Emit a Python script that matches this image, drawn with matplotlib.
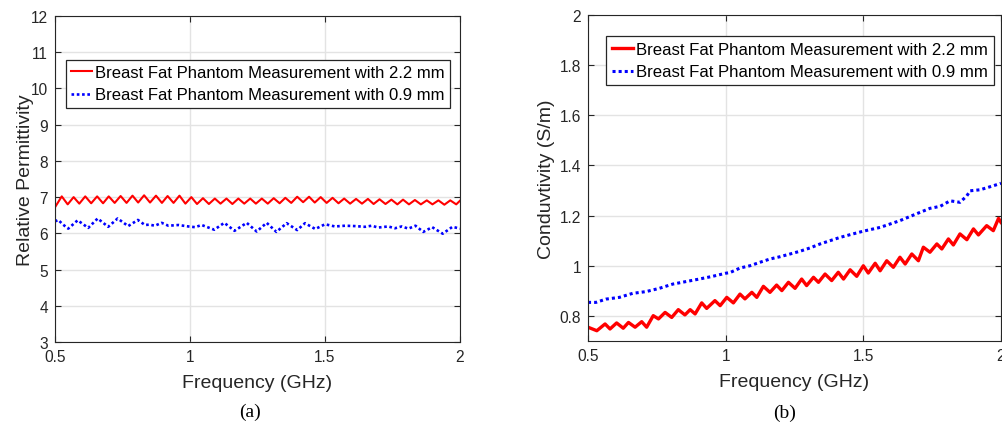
import matplotlib
matplotlib.use("Agg")
import matplotlib.pyplot as plt
from matplotlib.ticker import FixedLocator, FixedFormatter

plt.rcParams['font.family'] = ['Liberation Sans', 'DejaVu Sans']

# ---------------- data: (a) relative permittivity ----------------
freq_a_22 = [0.500, 0.525, 0.547, 0.569, 0.590, 0.612, 0.634, 0.656, 0.678, 0.699,
             0.721, 0.743, 0.765, 0.787, 0.808, 0.830, 0.852, 0.874, 0.896, 0.917,
             0.939, 0.961, 0.983, 1.005, 1.026, 1.048, 1.070, 1.092, 1.113, 1.135,
             1.157, 1.179, 1.201, 1.223, 1.244, 1.266, 1.288, 1.310, 1.332, 1.353,
             1.375, 1.397, 1.419, 1.441, 1.462, 1.484, 1.506, 1.528, 1.550, 1.571,
             1.593, 1.615, 1.637, 1.659, 1.680, 1.702, 1.724, 1.746, 1.768, 1.789,
             1.811, 1.833, 1.855, 1.877, 1.898, 1.920, 1.942, 1.964, 1.986, 2.000]
perm_22 = [6.72, 7.02, 6.80, 7.00, 6.82, 7.02, 6.83, 7.02, 6.83, 7.02,
           6.84, 7.03, 6.84, 7.04, 6.85, 7.05, 6.85, 7.04, 6.84, 7.03,
           6.84, 7.04, 6.82, 7.00, 6.81, 6.97, 6.81, 6.96, 6.82, 6.96,
           6.81, 6.96, 6.82, 6.96, 6.82, 6.96, 6.82, 6.97, 6.83, 6.98,
           6.84, 7.01, 6.86, 7.01, 6.85, 7.00, 6.84, 6.98, 6.83, 6.96,
           6.82, 6.95, 6.82, 6.95, 6.81, 6.94, 6.81, 6.93, 6.80, 6.93,
           6.80, 6.92, 6.80, 6.91, 6.80, 6.91, 6.79, 6.91, 6.80, 6.90]

freq_a_09 = [0.500, 0.512, 0.530, 0.549, 0.584, 0.623, 0.658, 0.697, 0.732, 0.771,
             0.807, 0.833, 0.850, 0.870, 0.895, 0.920, 0.957, 0.994, 1.019, 1.043,
             1.090, 1.127, 1.165, 1.210, 1.247, 1.284, 1.320, 1.358, 1.397, 1.426,
             1.464, 1.500, 1.537, 1.574, 1.611, 1.648, 1.673, 1.697, 1.734, 1.759,
             1.784, 1.809, 1.835, 1.864, 1.897, 1.936, 1.972, 2.000]
perm_09 = [6.33, 6.37, 6.24, 6.13, 6.36, 6.15, 6.41, 6.18, 6.41, 6.20,
           6.37, 6.23, 6.24, 6.21, 6.29, 6.21, 6.23, 6.19, 6.17, 6.23,
           6.10, 6.29, 6.07, 6.29, 6.05, 6.29, 6.04, 6.28, 6.09, 6.28,
           6.12, 6.25, 6.19, 6.21, 6.20, 6.18, 6.21, 6.16, 6.19, 6.14,
           6.19, 6.13, 6.21, 6.04, 6.17, 5.99, 6.18, 6.13]

# ---------------- data: (b) conductivity ----------------
freq_b_22 = [0.500, 0.532, 0.562, 0.580, 0.604, 0.628, 0.647, 0.671, 0.695, 0.713,
             0.737, 0.756, 0.780, 0.804, 0.828, 0.852, 0.871, 0.889, 0.913, 0.931,
             0.961, 0.980, 1.004, 1.028, 1.052, 1.070, 1.095, 1.113, 1.137, 1.161,
             1.185, 1.204, 1.228, 1.252, 1.276, 1.294, 1.319, 1.337, 1.361, 1.385,
             1.409, 1.428, 1.452, 1.476, 1.500, 1.518, 1.543, 1.561, 1.585, 1.609,
             1.633, 1.652, 1.676, 1.700, 1.718, 1.742, 1.767, 1.785, 1.809, 1.827,
             1.851, 1.876, 1.900, 1.918, 1.948, 1.972, 1.991, 2.000]
cond_22 = [0.755, 0.741, 0.768, 0.748, 0.772, 0.751, 0.774, 0.755, 0.777, 0.755,
           0.801, 0.788, 0.814, 0.794, 0.825, 0.804, 0.825, 0.808, 0.852, 0.830,
           0.861, 0.841, 0.874, 0.852, 0.887, 0.868, 0.894, 0.874, 0.918, 0.894,
           0.923, 0.901, 0.934, 0.910, 0.947, 0.921, 0.954, 0.934, 0.967, 0.941,
           0.974, 0.947, 0.984, 0.958, 1.000, 0.971, 1.010, 0.980, 1.020, 0.994,
           1.034, 1.007, 1.047, 1.020, 1.074, 1.054, 1.087, 1.067, 1.107, 1.083,
           1.127, 1.104, 1.147, 1.123, 1.160, 1.140, 1.189, 1.173]

freq_b_09 = [0.500, 0.529, 0.565, 0.614, 0.662, 0.711, 0.759, 0.808, 0.856, 0.904,
             0.953, 0.999, 1.016, 1.052, 1.088, 1.125, 1.161, 1.197, 1.234, 1.270,
             1.306, 1.343, 1.379, 1.415, 1.452, 1.500, 1.561, 1.633, 1.706, 1.742,
             1.779, 1.815, 1.851, 1.876, 1.888, 1.924, 1.972, 2.000]
cond_09 = [0.854, 0.854, 0.867, 0.874, 0.890, 0.897, 0.910, 0.927, 0.937, 0.947,
           0.958, 0.970, 0.973, 0.991, 1.000, 1.014, 1.027, 1.036, 1.047, 1.058,
           1.071, 1.087, 1.100, 1.113, 1.124, 1.138, 1.153, 1.180, 1.213, 1.229,
           1.237, 1.259, 1.253, 1.279, 1.299, 1.303, 1.319, 1.329]

label_22 = "Breast Fat Phantom Measurement with 2.2 mm"
label_09 = "Breast Fat Phantom Measurement with 0.9 mm"

xticks = [0.5, 1, 1.5, 2]
xtick_labels = ["0.5", "1", "1.5", "2"]
yticks_a = [3, 4, 5, 6, 7, 8, 9, 10, 11, 12]
yticks_b = [0.8, 1.0, 1.2, 1.4, 1.6, 1.8, 2.0]
ytick_labels_b = ["0.8", "1", "1.2", "1.4", "1.6", "1.8", "2"]

W, H = 1002, 427
fig = plt.figure(figsize=(W / 100, H / 100), dpi=100)

axc = '#262626'
gridc = '#e3e3e3'


def style(ax):
    ax.grid(True, color=gridc, linewidth=1.0)
    ax.set_axisbelow(True)
    for s in ax.spines.values():
        s.set_color(axc)
        s.set_linewidth(0.8)
    ax.tick_params(direction='in', length=4, width=0.8, colors=axc,
                   labelsize=11.2, top=True, right=True, pad=5)
    for lab in ax.get_xticklabels() + ax.get_yticklabels():
        lab.set_color(axc)


# ---- (a)
ax1 = fig.add_axes([55 / W, 1 - 343 / H, 405 / W, 326 / H])
ax1.plot(freq_a_22, perm_22, color='#ff0000', lw=1.5, solid_joinstyle='round',
         label=label_22)
ax1.plot(freq_a_09, perm_09, color='#0000ff', lw=1.9, dashes=(1.0, 1.0), label=label_09)
ax1.set_xlim(0.5, 2)
ax1.set_ylim(3, 12)
ax1.xaxis.set_major_locator(FixedLocator(xticks))
ax1.xaxis.set_major_formatter(FixedFormatter(xtick_labels))
ax1.yaxis.set_major_locator(FixedLocator(yticks_a))
ax1.set_xlabel("Frequency (GHz)", fontsize=14, color=axc, labelpad=7)
ax1.set_ylabel("Relative Permittivity", fontsize=14, color=axc, labelpad=-2)
style(ax1)
leg1 = ax1.legend(loc='upper left', bbox_to_anchor=(11 / 405, (343 - 61) / 326),
                  borderaxespad=0, fontsize=12, handlelength=1.25, handletextpad=0.2,
                  borderpad=0.3, labelspacing=0.45, fancybox=False, framealpha=1,
                  edgecolor='#262626')
leg1.get_frame().set_linewidth(0.9)

# ---- (b)
ax2 = fig.add_axes([588 / W, 1 - 342 / H, 413 / W, 326 / H])
ax2.plot(freq_b_22, cond_22, color='#ff0000', lw=2.4, solid_joinstyle='round',
         label=label_22)
ax2.plot(freq_b_09, cond_09, color='#0000ff', lw=2.2, dashes=(1.0, 1.0), label=label_09)
ax2.set_xlim(0.5, 2)
ax2.set_ylim(0.7, 2)
ax2.xaxis.set_major_locator(FixedLocator(xticks))
ax2.xaxis.set_major_formatter(FixedFormatter(xtick_labels))
ax2.yaxis.set_major_locator(FixedLocator(yticks_b))
ax2.yaxis.set_major_formatter(FixedFormatter(ytick_labels_b))
ax2.set_xlabel("Frequency (GHz)", fontsize=14, color=axc, labelpad=7)
ax2.set_ylabel("Conduvtivity (S/m)", fontsize=14, color=axc, labelpad=3)
style(ax2)
leg2 = ax2.legend(loc='upper left', bbox_to_anchor=(18 / 413, (342 - 37) / 326),
                  borderaxespad=0, fontsize=12.1, handlelength=1.25, handletextpad=0.2,
                  borderpad=0.35, labelspacing=0.45, fancybox=False, framealpha=1,
                  edgecolor='#262626')
leg2.get_frame().set_linewidth(0.9)

fig.text(250 / W, 1 - 412 / H, "(a)", ha='center', va='center', fontsize=14,
         family=['Liberation Serif', 'DejaVu Serif'])
fig.text(785 / W, 1 - 413 / H, "(b)", ha='center', va='center', fontsize=14,
         family=['Liberation Serif', 'DejaVu Serif'])

fig.savefig("out.png", dpi=100)
